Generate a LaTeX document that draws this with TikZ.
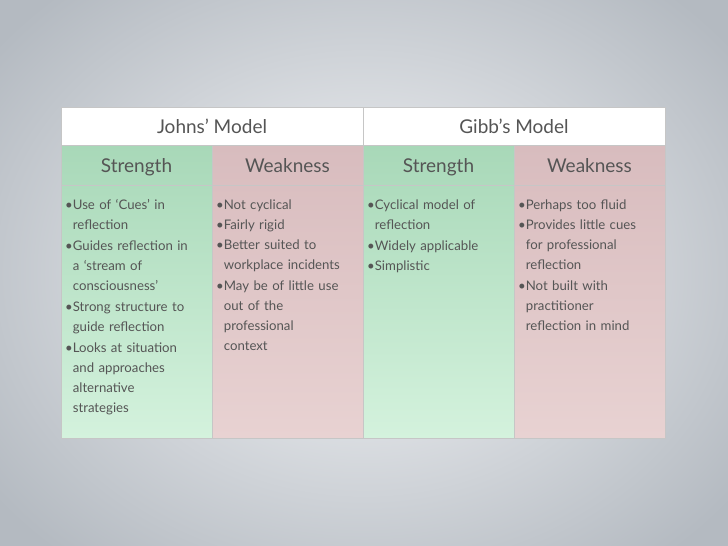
\documentclass[tikz,border=0pt]{standalone}
\usepackage{fontspec}
\setmainfont{Lato}
\usetikzlibrary{positioning}
\definecolor{bgmid}{HTML}{F6F7F9}
\definecolor{bgedge}{HTML}{B4BAC1}
\definecolor{strtop}{HTML}{A8D8B8}
\definecolor{strbot}{HTML}{D4F2DD}
\definecolor{weaktop}{HTML}{D8BCBE}
\definecolor{weakbot}{HTML}{E8D2D2}
\definecolor{txt}{HTML}{555555}
\newcommand\bitem[1]{\par\noindent\textbullet\begin{tabular}[t]{@{}l@{}}#1\end{tabular}}
\tikzset{
  hcell/.style={draw=gray!45, line width=0.6pt, fill=white},
  strcell/.style={draw=gray!45, line width=0.6pt, top color=strtop, bottom color=strbot},
  weakcell/.style={draw=gray!45, line width=0.6pt, top color=weaktop, bottom color=weakbot},
  headtxt/.style={font=\fontsize{19}{22}\selectfont, text=txt, anchor=base},
  subtxt/.style={font=\fontsize{19}{22}\selectfont, text=txt, anchor=base},
  bodytxt/.style={font=\fontsize{13.2}{20}\selectfont, text=txt, text width=146pt, align=left, anchor=north west, inner sep=0pt}
}
\begin{document}
\begin{tikzpicture}[x=1pt,y=-1pt]
 \useasboundingbox (0,0) rectangle (728,546);
 \shade[inner color=bgmid, outer color=bgedge] (-100,-100) rectangle (828,646);
 % header row
 \draw[hcell] (61,107) rectangle (363,145);
 \draw[hcell] (363,107) rectangle (665,145);
 \node[headtxt] (johns) at (212,133) {Johns’ Model};
 \node[headtxt] (gibbs) at (514,133) {Gibb’s Model};
 % columns
 \draw[strcell] (61,145) rectangle (212,438);
 \draw[weakcell] (212,145) rectangle (363,438);
 \draw[strcell] (363,145) rectangle (514,438);
 \draw[weakcell] (514,145) rectangle (665,438);
 \draw[gray!45, line width=0.6pt] (61,185) -- (665,185);
 \node[subtxt] (js) at (136.5,172) {Strength};
 \node[subtxt] (jw) at (287.5,172) {Weakness};
 \node[subtxt] (gs) at (438.5,172) {Strength};
 \node[subtxt] (gw) at (589.5,172) {Weakness};
 % bodies
 \node[bodytxt] (jsbody) at (65,189) {%
  \bitem{Use of ‘Cues’ in\\reflection}
  \bitem{Guides reflection in\\a ‘stream of\\consciousness’}
  \bitem{Strong structure to\\guide reflection}
  \bitem{Looks at situation\\and approaches\\alternative\\strategies}};
 \node[bodytxt] (jwbody) at (216,189) {%
  \bitem{Not cyclical}
  \bitem{Fairly rigid}
  \bitem{Better suited to\\workplace incidents}
  \bitem{May be of little use\\out of the\\professional\\context}};
 \node[bodytxt] (gsbody) at (367,189) {%
  \bitem{Cyclical model of\\reflection}
  \bitem{Widely applicable}
  \bitem{Simplistic}};
 \node[bodytxt] (gwbody) at (518,189) {%
  \bitem{Perhaps too fluid}
  \bitem{Provides little cues\\for professional\\reflection}
  \bitem{Not built with\\practitioner\\reflection in mind}};
\end{tikzpicture}
\end{document}
